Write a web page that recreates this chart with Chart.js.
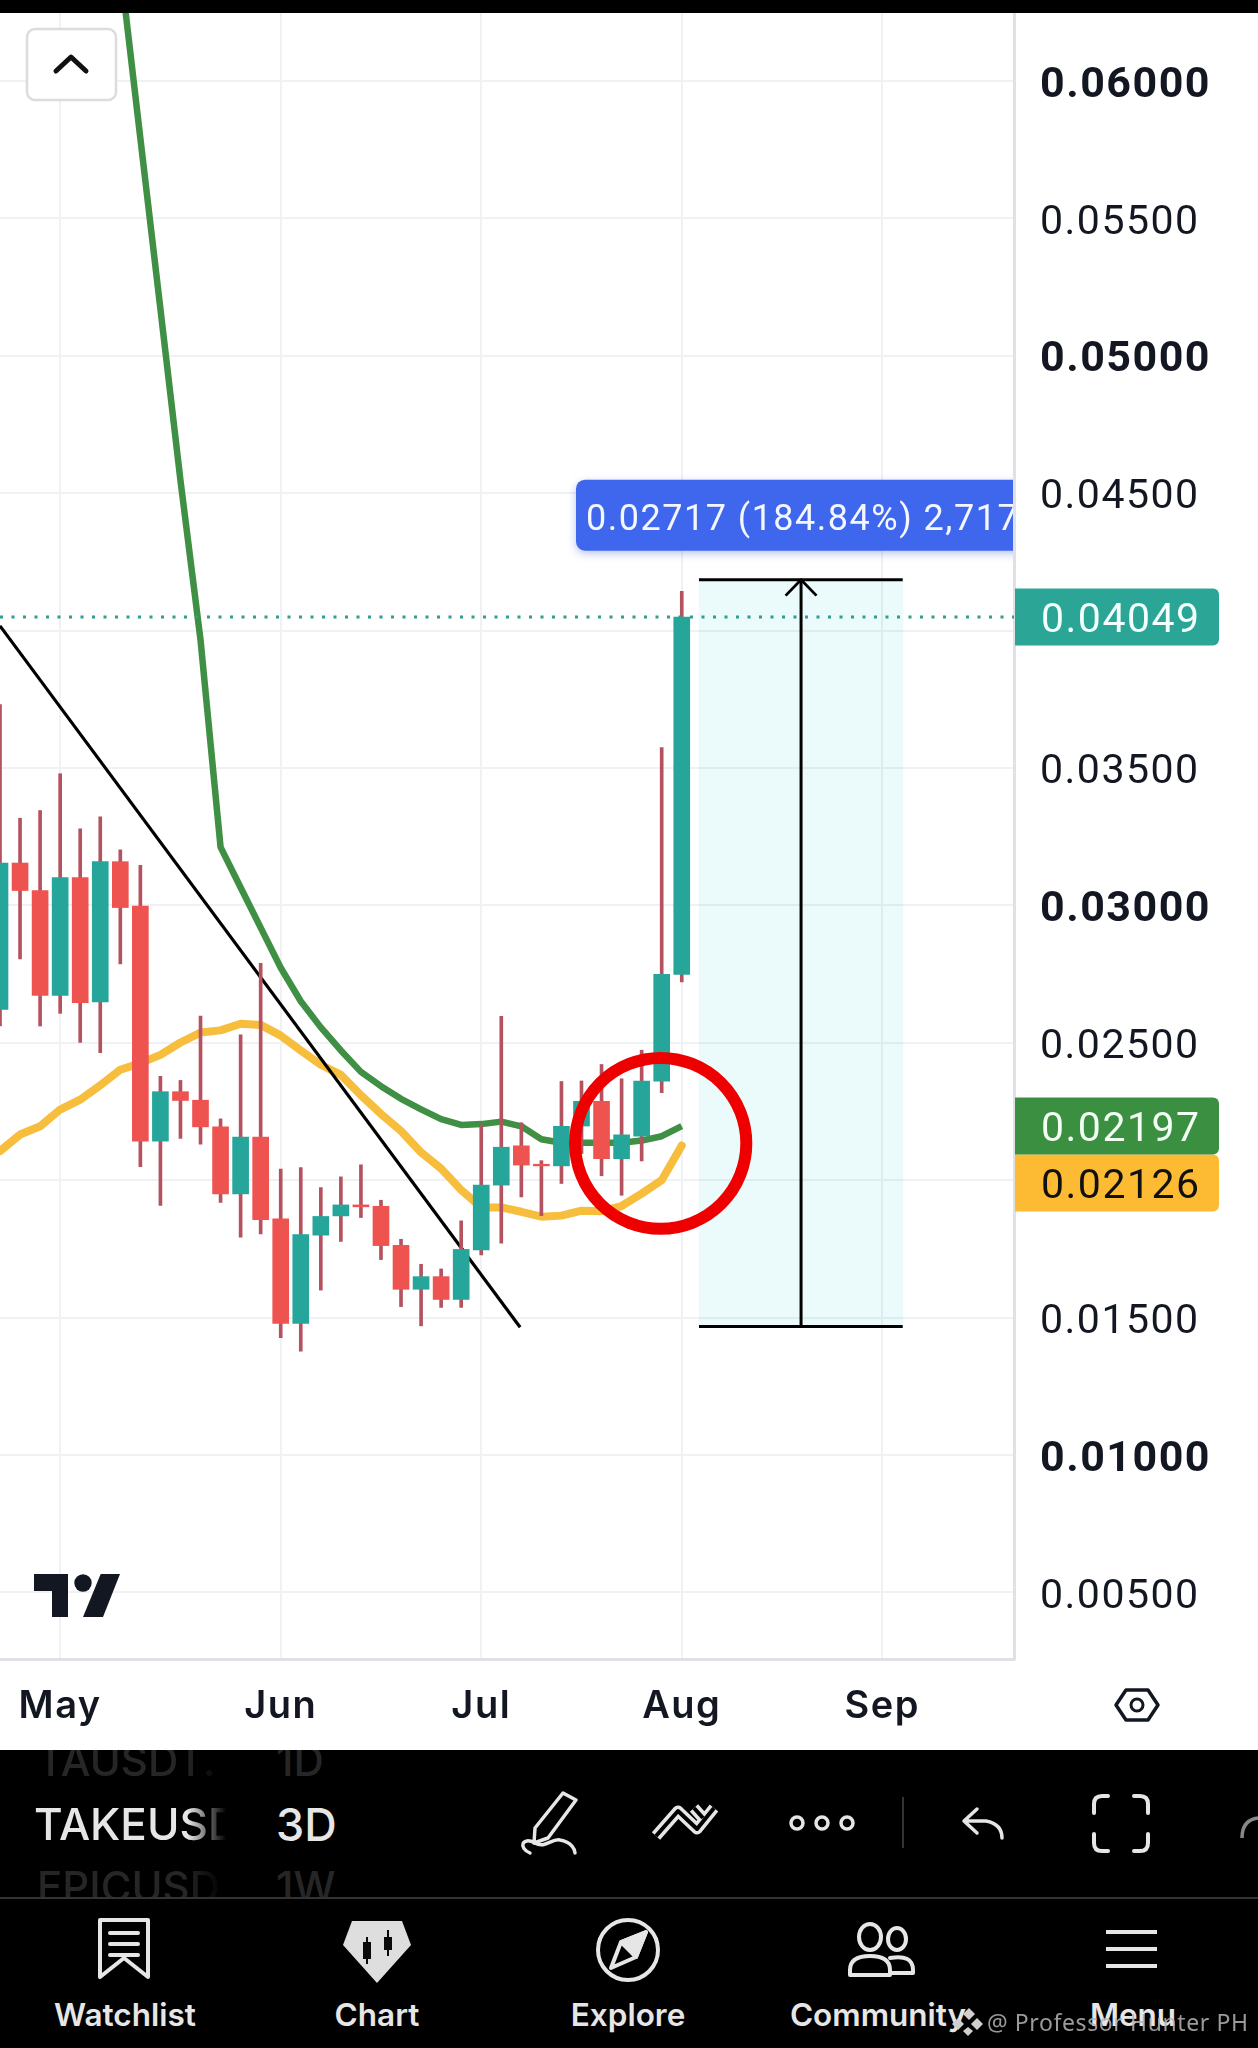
<!DOCTYPE html>
<html>
<head>
<meta charset="utf-8">
<style>
html,body{margin:0;padding:0;background:#000;width:1258px;height:2048px;overflow:hidden}
#wrap{position:relative;width:1258px;height:2048px;overflow:hidden;background:#000;font-family:Inter,Roboto,sans-serif}
#c{position:absolute;left:0;top:0;background:#fff}
.t{position:absolute;white-space:nowrap;line-height:1;transform:translateY(-50%)}
.nav{color:#e6e6e6;font-size:31.500px;font-weight:600;transform:translate(-50%,-50%)}
.fade{overflow:hidden;-webkit-mask-image:linear-gradient(90deg,#000 80%,transparent 100%);mask-image:linear-gradient(90deg,#000 80%,transparent 100%)}
svg{position:absolute;left:0;top:0}
</style>
</head>
<body>
<div id="wrap">
<canvas id="c" width="1258" height="1750"></canvas>
<div style="position:absolute;left:0;top:0;width:1258px;height:13px;background:#000"></div>

<div style="position:absolute;left:0;top:1750px;width:1258px;height:30px;overflow:hidden">
  <div class="t fade" style="left:37px;top:11px;width:186px;font-size:42px;color:#262626;font-weight:500">TAUSDT.</div>
  <div class="t" style="left:276px;top:11px;font-size:42px;color:#262626;font-weight:500">1D</div>
</div>
<div class="t fade" style="left:34px;top:1824px;width:192px;font-size:44px;color:#e6e6e6;font-weight:500">TAKEUSDT</div>
<div class="t" style="left:276px;top:1824px;font-size:45px;color:#e6e6e6;font-weight:500">3D</div>
<div style="position:absolute;left:0;top:1868px;width:1258px;height:29px;overflow:hidden">
  <div class="t fade" style="left:37px;top:19px;width:186px;font-size:42px;color:#262626;font-weight:500">EPICUSDT</div>
  <div class="t" style="left:276px;top:19px;font-size:42px;color:#262626;font-weight:500">1W</div>
</div>
<div style="position:absolute;left:0;top:1897px;width:1258px;height:2px;background:#333"></div>

<div class="t nav" style="left:125px;top:2015px">Watchlist</div>
<div class="t nav" style="left:377px;top:2015px">Chart</div>
<div class="t nav" style="left:628px;top:2015px">Explore</div>
<div class="t nav" style="left:878px;top:2015px">Community</div>
<div class="t nav" style="left:1133px;top:2015px">Menu</div>
<div class="t" style="left:987px;top:2022px;font-family:'Noto Sans';font-size:23px;letter-spacing:.6px;color:#b5b5b5;opacity:.85">@ Professor Hunter PH</div>

<svg width="1258" height="2048" viewBox="0 0 1258 2048" fill="none">
  <rect x="27" y="29" width="89" height="71" rx="8" fill="#fff" stroke="#dcdcdc" stroke-width="2.500"/>
  <path d="M56 71 L71 57 L86 71" stroke="#111" stroke-width="5" stroke-linecap="round" stroke-linejoin="round"/>
  <g fill="#131722">
    <path d="M34 1574H68V1617H52V1591H34Z"/>
    <circle cx="83" cy="1583" r="8.700"/>
    <path d="M100.700 1574H120L103 1617H83Z"/>
  </g>
  <path d="M1126 1690H1148L1158 1705L1148 1720H1126L1116 1705Z" stroke="#131722" stroke-width="3.500" stroke-linejoin="round"/>
  <circle cx="1137" cy="1705" r="6" stroke="#131722" stroke-width="3"/>
  <path d="M656 1836L678 1811L697 1829L714 1808M694 1808L703 1818" stroke="#e6e6e6" stroke-width="11" stroke-linejoin="round"/>
  <path d="M656 1836L678 1811L697 1829L714 1808M694 1808L703 1818" stroke="#000" stroke-width="4" stroke-linejoin="round"/>
  <g stroke="#e6e6e6" stroke-width="3.500" stroke-linecap="round" stroke-linejoin="round">
    <path d="M563 1793L576 1800L548 1838L534 1843L535 1828Z"/>
    <path d="M530 1853C518 1848 522 1836 535 1843C545 1849 552 1838 560 1840C572 1842 575 1850 575 1853"/>
    <circle cx="797" cy="1823" r="6"/><circle cx="822" cy="1823" r="6"/><circle cx="847" cy="1823" r="6"/>
    <path d="M977 1809L964 1821L977 1833M964 1821H986Q1002 1824 1002 1838"/>
    <path stroke-width="4" d="M1094 1813V1804Q1094 1796 1102 1796H1108M1134 1796H1140Q1148 1796 1148 1804V1813M1148 1834V1843Q1148 1851 1140 1851H1134M1108 1851H1102Q1094 1851 1094 1843V1834"/>
  </g>
  <path d="M1258 1818Q1242 1820 1242 1838" stroke="#888" stroke-width="3.500"/>
  <path d="M903 1797V1848" stroke="#333" stroke-width="2"/>
  <g stroke="#e6e6e6" stroke-width="4" stroke-linejoin="round" stroke-linecap="round">
    <path d="M100 1920H148V1977L124 1958L100 1977Z"/>
    <path d="M110 1933H138M110 1944H138M110 1955H138"/>
    <circle cx="628" cy="1950" r="30"/>
    <path d="M646 1932L636 1957L611 1968L621 1942Z"/>
    <path fill="#e6e6e6" d="M646 1932L621 1942L636 1957Z"/>
    <ellipse cx="870" cy="1937" rx="11" ry="13"/>
    <ellipse cx="897" cy="1939" rx="9" ry="11"/>
    <path d="M850 1975V1970Q850 1956 870 1956Q890 1956 890 1970V1975Z"/>
    <path d="M890 1958Q913 1954 913 1970V1973H890"/>
    <path stroke-linecap="butt" d="M1106 1932H1157M1106 1949H1157M1106 1966H1157"/>
  </g>
  <path d="M352 1921H402L411 1945L377 1983L343 1945Z" fill="#dedede"/>
  <g fill="#0a0a0a"><rect x="363" y="1942" width="8" height="17"/><rect x="366" y="1937" width="2" height="27"/><rect x="384" y="1937" width="8" height="13"/><rect x="387" y="1930" width="2" height="26"/></g>
  <g fill="#d0d0d0"><path d="M969 2008L975 2014L969 2020L963 2014Z"/><path d="M958 2018L964 2024L958 2030L952 2024Z"/><path d="M977 2018L983 2024L977 2030L971 2024Z"/><path d="M968 2027L973 2031L968 2036L963 2031Z"/></g>
</svg>
</div>

<script src="https://cdn.jsdelivr.net/npm/chart.js@4"></script>
<script>
const candleIndex = Array.from({length:35},(_,i)=>i);
const candleOpen  = [.02621,.03154,.03054,.02672,.03101,.02649,.03159,.02997,.02142,.02322,.02291,.02194,.0195,.02157,.01859,.01479,.018,.0187,.0191,.01905,.01763,.01603,.01649,.01566,.01746,.01982,.02125,.02058,.02052,.02197,.02287,.02078,.0216,.0236,.02749];
const candleClose = [.03154,.03054,.02672,.03101,.02646,.03159,.02992,.02142,.02322,.0229,.02194,.0195,.02157,.01856,.01479,.01802,.01868,.0191,.01903,.01762,.01603,.01649,.01566,.01748,.01982,.0212,.02055,.02052,.02196,.02287,.02078,.02165,.02361,.02749,.04049];
const candleHigh  = [.03731,.03317,.03345,.03479,.03278,.03322,.03202,.03146,.02378,.02363,.02597,.02223,.02529,.02789,.0204,.02046,.01973,.02012,.02056,.01927,.01785,.01694,.01677,.01852,.02201,.02596,.02209,.02071,.02359,.02361,.02421,.02369,.02473,.03574,.04143];
const candleLow   = [.02561,.02805,.02561,.02607,.02501,.02464,.02787,.02049,.01908,.02152,.02131,.01919,.01793,.01804,.01427,.01378,.016,.01777,.01864,.01711,.0154,.0147,.01537,.01537,.01728,.01771,.01939,.01871,.01988,.02097,.02016,.01945,.0207,.02318,.02721];

const greenIndex = [6,7,8,9,10,11,12,13,14,15,16,17,18,19,20,21,22,23,24,25,26,27,28,29,30,31,32,33,34];
const greenMA    = [.06415,.05791,.0517,.04546,.03966,.03212,.03065,.02919,.02773,.02651,.02556,.02472,.02394,.02342,.02296,.02258,.02222,.02201,.02204,.02213,.02196,.02149,.02136,.02136,.02136,.02136,.02144,.0216,.02197];
const yellowMA   = [.02106,.02166,.02196,.02257,.02293,.02345,.02402,.02426,.02456,.02501,.02537,.02545,.02569,.02565,.02526,.02472,.0242,.02383,.02309,.02241,.02179,.02101,.02042,.01964,.01901,.01901,.01885,.01867,.01871,.01889,.01887,.01906,.01951,.02,.02126];

const trendX = [0,25.94];
const trendY = [.04017,.01465];
const measureX = [34.86,45.02];
const measureMidX = 39.95;
const measureTop = .04185;
const measureBottom = .01468;
const lastPrice = .04049;
const greenLast = .02197;
const yellowLast = .02126;
const circleX = 32.95, circleY = .02134, circleRX = 4.27, circleRY = .00311;

const yTicks = [.06,.055,.05,.045,.04,.035,.03,.025,.02,.015,.01,.005];
const yLabels = ['0.06000','0.05500','0.05000','0.04500','','0.03500','0.03000','0.02500','','0.01500','0.01000','0.00500'];
const yBold = ['0.06000','0.05000','0.03000','0.01000'];
const monthTicks = [3,14,24,34,44];
const monthLabels = ['May','Jun','Jul','Aug','Sep'];

const RED='#ef5350', TEAL='#26a69a', WICK='#b4535f', GRID='#f0f1f4', AXIS='#dfe1e6';
const bodyColors = candleIndex.map(i => candleClose[i] > candleOpen[i] ? TEAL : RED);
const SPACING='1.500px';

const overlay = {
  id:'overlay',
  beforeDraw(chart){ chart.ctx.letterSpacing=SPACING; },
  afterDatasetsDraw(chart){
    const {ctx, scales:{x,y}} = chart;
    ctx.save();
    ctx.strokeStyle='#ee0000';
    ctx.lineWidth=12;
    ctx.beginPath();
    ctx.ellipse(x.getPixelForValue(circleX), y.getPixelForValue(circleY),
      x.getPixelForValue(circleRX)-x.getPixelForValue(0),
      y.getPixelForValue(0)-y.getPixelForValue(circleRY), 0, 0, Math.PI*2);
    ctx.stroke();
    ctx.restore();
  },
  afterDraw(chart){
    const {ctx, scales:{x,y}} = chart;
    const R = chart.chartArea.right;
    const tag = (yc,bg,fg,txt)=>{
      ctx.save();
      ctx.fillStyle=bg;
      ctx.beginPath();
      ctx.roundRect(R+1,yc-28.5,204,57,[0,6,6,0]);
      ctx.fill();
      ctx.fillStyle=fg;
      ctx.font='400 41px Roboto';
      ctx.textAlign='left';ctx.textBaseline='middle';
      ctx.fillText(txt,1041,yc+5);
      ctx.restore();
    };
    const gy = y.getPixelForValue(greenLast);
    tag(y.getPixelForValue(lastPrice),'#2ba596','#f2fffc',lastPrice.toFixed(5));
    tag(gy+57,'#fdba33','#111',yellowLast.toFixed(5));
    tag(gy,'#3a8f40','#f2fff2',greenLast.toFixed(5));
    const lx=576, ly=y.getPixelForValue(measureTop)-100;
    ctx.save();
    ctx.beginPath();ctx.rect(0,0,R-1,1750);ctx.clip();
    ctx.shadowColor='rgba(60,90,200,.35)';ctx.shadowBlur=8;ctx.shadowOffsetY=3;
    ctx.fillStyle='#3f67ee';
    ctx.beginPath();ctx.roundRect(lx,ly,460,71,9);ctx.fill();
    ctx.shadowColor='transparent';
    ctx.fillStyle='#f4f7ff';
    ctx.font='400 36px Roboto';
    ctx.letterSpacing='1.500px';
    ctx.textAlign='left';ctx.textBaseline='middle';
    ctx.fillText('0.02717 (184.84%) 2,717',586,ly+41);
    ctx.restore();
  }
};

const ptsIdx = (xs,ys)=>xs.map((v,i)=>({x:v,y:ys[i]}));
const lineDs = (data,color,width,order,extra={})=>Object.assign({type:'line',data,borderColor:color,borderWidth:width,pointRadius:0,tension:0,fill:false,order,borderCapStyle:'butt',borderJoinStyle:'round'},extra);

new Chart(document.getElementById('c'),{
  type:'bar',
  plugins:[overlay],
  data:{datasets:[
    {type:'bar',data:[{x:measureMidX,y:[measureBottom,measureTop]}],backgroundColor:'rgba(0,190,190,.08)',barThickness:204,order:9,grouped:false},
    lineDs(ptsIdx(greenIndex,greenMA),'#3f8f45',6.5,6),
    lineDs(ptsIdx(candleIndex,yellowMA),'#f7bd3d',8,6,{borderCapStyle:'round'}),
    lineDs(ptsIdx(trendX,trendY),'#000',3.2,5),
    {type:'bar',data:candleIndex.map(i=>({x:i,y:[candleLow[i],candleHigh[i]]})),backgroundColor:WICK,barThickness:3,order:3,grouped:false},
    {type:'bar',data:candleIndex.map(i=>({x:i,y:[candleOpen[i],candleClose[i]]})),backgroundColor:bodyColors,barThickness:16,order:2,grouped:false},
    lineDs(ptsIdx(measureX,[measureTop,measureTop]),'#000',3,1),
    lineDs(ptsIdx(measureX,[measureBottom,measureBottom]),'#000',3,1),
    lineDs(ptsIdx([measureMidX,measureMidX],[measureBottom,measureTop]),'#000',3,1),
    lineDs(ptsIdx([measureMidX-.77,measureMidX,measureMidX+.77],[measureTop-.00058,measureTop,measureTop-.00058]),'#000',2.8,1),
    lineDs(ptsIdx([0,50.57],[lastPrice,lastPrice]),'#2f9d90',3,0,{borderDash:[3,8.5]})
  ]},
  options:{
    responsive:false,animation:false,devicePixelRatio:1,
    layout:{autoPadding:false,padding:{top:13,left:0,right:0,bottom:0}},
    plugins:{legend:{display:false},tooltip:{enabled:false}},
    events:[],
    scales:{
      x:{type:'linear',min:0,max:50.57,offset:false,
        afterBuildTicks(s){s.ticks=monthTicks.map(v=>({value:v}));},
        afterFit(s){s.height=91;s.paddingLeft=0;s.paddingRight=0;},
        grid:{offset:false,color:GRID,lineWidth:2,drawTicks:false},
        border:{color:AXIS,width:3},
        ticks:{autoSkip:false,maxRotation:0,padding:25,color:'#131722',font:{family:'Inter',size:38,weight:'600'},
          callback(v){return monthLabels[monthTicks.indexOf(v)];}}
      },
      y:{type:'linear',position:'right',min:.002577,max:.06247,
        afterBuildTicks(s){s.ticks=yTicks.map(v=>({value:v}));},
        afterFit(s){s.width=244;s.paddingTop=0;s.paddingBottom=0;},
        grid:{offset:false,color:GRID,lineWidth:2,drawTicks:false},
        border:{color:AXIS,width:3},
        ticks:{autoSkip:false,padding:26,labelOffset:5,color:'#131722',
          font(ctx){const lab=yLabels[yTicks.indexOf(ctx.tick&&ctx.tick.value)];
            const b=yBold.includes(lab);
            return {family:'Roboto',size:b?43:41,weight:b?'700':'400'};},
          callback(v){return yLabels[yTicks.indexOf(v)];}}
      }
    }
  }
});
</script>
</body>
</html>
